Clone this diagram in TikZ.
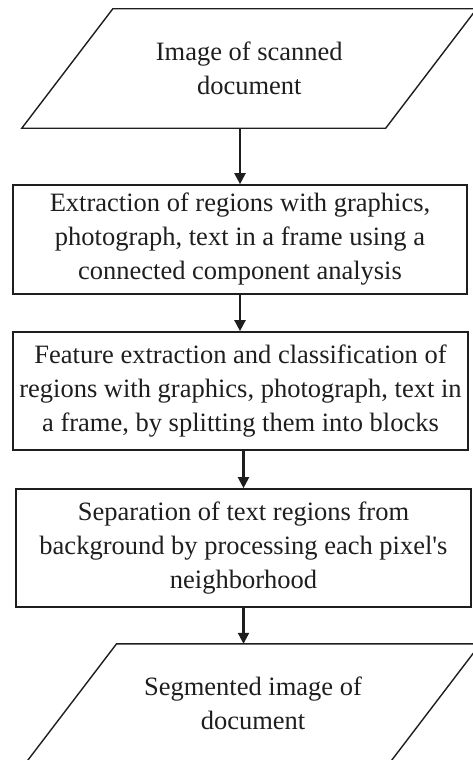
\documentclass[tikz,border=0pt]{standalone}
\usepackage{fontspec}
\setmainfont{Liberation Serif}
\usetikzlibrary{arrows.meta}

\definecolor{ink}{HTML}{1E1E1E}

\tikzset{
	stepbox/.style = {draw = ink, line width = 1.7pt, text = ink, inner sep = 0pt,
		minimum width = 455pt, minimum height = 118pt, align = center,
		font = \fontsize{26.5}{34}\selectfont},
	iobox/.style = {text = ink, inner sep = 0pt,
		minimum width = 363.5pt, minimum height = 119pt, align = center,
		font = \fontsize{26.5}{34}\selectfont},
	ioline/.style = {draw = ink, line width = 1.4pt, line join = miter},
	flow/.style = {draw = ink, line width = 2.2pt, -{Triangle[length = 11pt, width = 11pt]}}
}

\begin{document}
\begin{tikzpicture}[x = 1pt, y = -1pt]

	\useasboundingbox (0, 0) rectangle (473, 760);

	% horizontal offset of the slanted sides
	\def\ioSlant{45.5pt}

	% input parallelogram
	\node[iobox] (scan) at (249.25, 68.5) {Image of scanned\\document};
	\draw[ioline] ([xshift = \ioSlant]scan.north west) -- ([xshift = \ioSlant]scan.north east)
		-- ([xshift = -\ioSlant]scan.south east) -- ([xshift = -\ioSlant]scan.south west) -- cycle;

	% processing steps
	\node[stepbox, minimum width = 454pt, minimum height = 109pt] (extract) at (240, 239.5)
		{Extraction of regions with graphics,\\photograph, text in a frame using a\\connected component analysis};
	\node[stepbox] (classify) at (240.5, 391)
		{Feature extraction and classification of\\regions with graphics, photograph, text in\\a frame, by splitting them into blocks};
	\node[stepbox] (separate) at (243.5, 548)
		{Separation of text regions from\\background by processing each pixel\textquotesingle s\\neighborhood};

	% output parallelogram
	\node[iobox] (segm) at (253, 703.5) {Segmented image of\\document};
	\draw[ioline] ([xshift = \ioSlant]segm.north west) -- ([xshift = \ioSlant]segm.north east)
		-- ([xshift = -\ioSlant]segm.south east) -- ([xshift = -\ioSlant]segm.south west) -- cycle;

	% arrows between the steps
	\draw[flow] (scan.south -| extract.north) -- (extract.north);
	\draw[flow] (extract.south) -- (extract.south |- classify.north);
	\draw[flow] (classify.south -| separate.north) -- (separate.north);
	\draw[flow] (separate.south) -- (separate.south |- segm.north);

\end{tikzpicture}
\end{document}
